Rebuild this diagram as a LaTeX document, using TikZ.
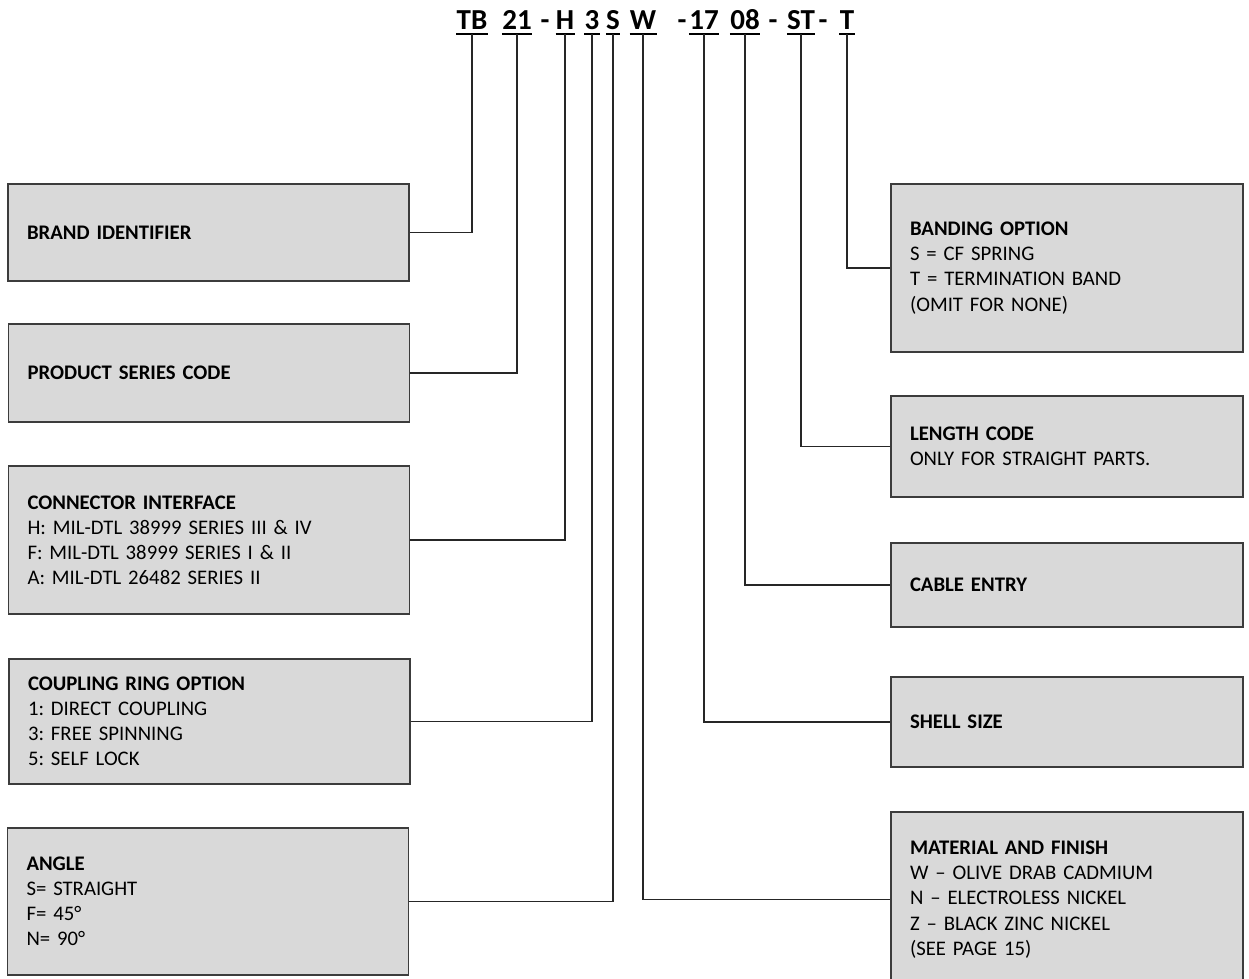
\documentclass[tikz,border=0pt]{standalone}
\usepackage{fontspec}
\setmainfont{Carlito}
\definecolor{boxfill}{RGB}{217,217,217}
\definecolor{boxline}{RGB}{60,60,60}
\newcommand{\boxfont}{\fontsize{11.8}{14.3}\selectfont\frenchspacing\spaceskip=0.17em plus 0.05em\relax}
\tikzset{
	infobox/.style={draw=boxline, fill=boxfill, line width=0.8pt, align=left, inner xsep=0.38cm, font=\boxfont},
	leftbox/.style={infobox, text width=7.26cm},
	rightbox/.style={infobox, text width=6.28cm},
	codepart/.style={font=\fontsize{16.5}{19}\selectfont\bfseries, inner xsep=0pt, inner ysep=0.076cm, anchor=base},
	leader/.style={line width=0.75pt, draw=black!85}
}

\begin{document}
\begin{tikzpicture}
\useasboundingbox (0,0) rectangle (24.98,-19.58);

% Part number
\node[codepart] (brandcode) at (9.44,-0.59) {TB};
\node[codepart] (seriescode) at (10.34,-0.59) {21};
\node[codepart] (dash1) at (10.9,-0.59) {-};
\node[codepart] (ifacecode) at (11.3,-0.59) {H};
\node[codepart] (couplingcode) at (11.84,-0.59) {3};
\node[codepart] (anglecode) at (12.26,-0.59) {S};
\node[codepart] (finishcode) at (12.86,-0.59) {W};
\node[codepart] (dash2) at (13.64,-0.59) {-};
\node[codepart] (shellcode) at (14.08,-0.59) {17};
\node[codepart] (entrycode) at (14.9,-0.59) {08};
\node[codepart] (dash3) at (15.46,-0.59) {-};
\node[codepart] (lengthcode) at (16.02,-0.59) {ST};
\node[codepart] (dash4) at (16.46,-0.59) {-};
\node[codepart] (bandcode) at (16.94,-0.59) {T};

\foreach \c in {brandcode,seriescode,ifacecode,couplingcode,anglecode,finishcode,shellcode,entrycode,lengthcode,bandcode}
	\draw[line width=1.1pt] (\c.south west) -- (\c.south east);

% left boxes
\node[leftbox, minimum height=1.94cm] (brand) at (4.17,-4.65) {\textbf{BRAND IDENTIFIER}};
\node[leftbox, minimum height=1.96cm] (series) at (4.18,-7.46) {\textbf{PRODUCT SERIES CODE}};
\node[leftbox, minimum height=2.96cm] (iface) at (4.18,-10.8) {\textbf{CONNECTOR INTERFACE}\\H: MIL-DTL 38999 SERIES III \& IV\\F: MIL-DTL 38999 SERIES I \& II\\A: MIL-DTL 26482 SERIES II};
\node[leftbox, minimum height=2.5cm] (coupling) at (4.19,-14.43) {\textbf{COUPLING RING OPTION}\\1: DIRECT COUPLING\\3: FREE SPINNING\\5: SELF LOCK};
\node[leftbox, minimum height=2.94cm] (angle) at (4.16,-18.03) {\textbf{ANGLE}\\S= STRAIGHT\\F= 45°\\N= 90°};

% right boxes
\node[rightbox, minimum height=3.36cm] (banding) at (21.34,-5.36) {\textbf{BANDING OPTION}\\S = CF SPRING\\T = TERMINATION BAND\\(OMIT FOR NONE)};
\node[rightbox, minimum height=2.02cm] (length) at (21.34,-8.93) {\textbf{LENGTH CODE}\\ONLY FOR STRAIGHT PARTS.};
\node[rightbox, minimum height=1.68cm] (entry) at (21.34,-11.7) {\textbf{CABLE ENTRY}};
\node[rightbox, minimum height=1.8cm] (shell) at (21.34,-14.44) {\textbf{SHELL SIZE}};
\node[rightbox, minimum height=3.5cm] (finish) at (21.34,-17.99) {\textbf{MATERIAL AND FINISH}\\W – OLIVE DRAB CADMIUM\\N – ELECTROLESS NICKEL\\Z – BLACK ZINC NICKEL\\(SEE PAGE 15)};

% leaders
\draw[leader] (brandcode.south) |- (brand.east);
\draw[leader] (seriescode.south) |- (series.east);
\draw[leader] (ifacecode.south) |- (iface.east);
\draw[leader] (couplingcode.south) |- (coupling.east);
\draw[leader] (anglecode.south) |- (angle.east);
\draw[leader] (finishcode.south) |- (finish.west);
\draw[leader] (shellcode.south) |- (shell.west);
\draw[leader] (entrycode.south) |- (entry.west);
\draw[leader] (lengthcode.south) |- (length.west);
\draw[leader] (bandcode.south) |- (banding.west);
\end{tikzpicture}
\end{document}
